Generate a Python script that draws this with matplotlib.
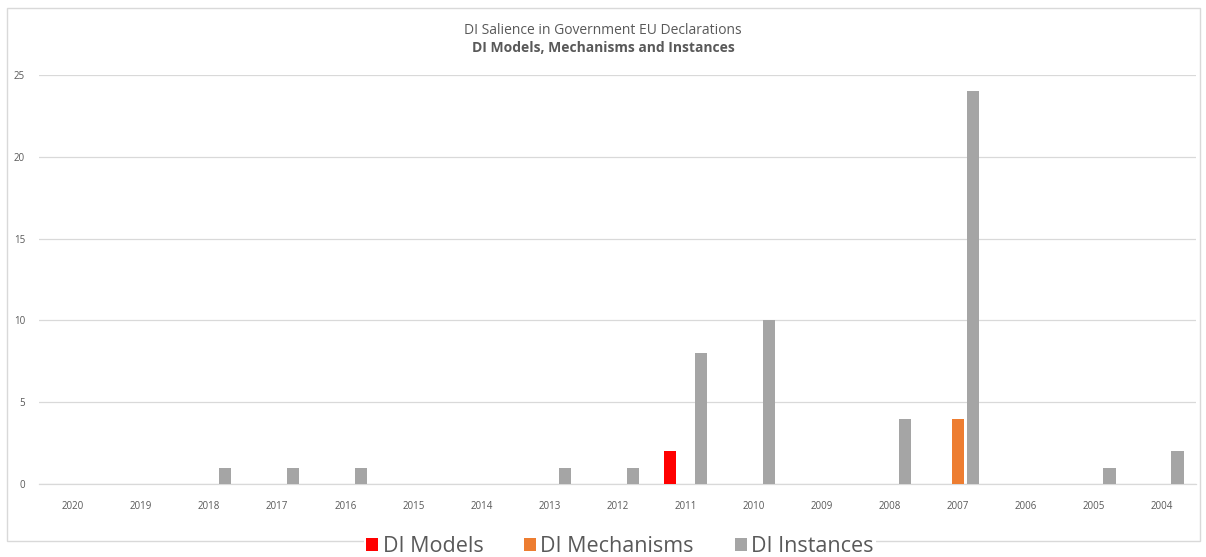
import matplotlib.pyplot as plt
import numpy as np
from matplotlib.patches import Rectangle

years = ['2020', '2019', '2018', '2017', '2016', '2015', '2014', '2013', '2012',
         '2011', '2010', '2009', '2008', '2007', '2006', '2005', '2004']
models = [0, 0, 0, 0, 0, 0, 0, 0, 0, 2, 0, 0, 0, 0, 0, 0, 0]
mechanisms = [0, 0, 0, 0, 0, 0, 0, 0, 0, 0, 0, 0, 0, 4, 0, 0, 0]
instances = [0, 0, 1, 1, 1, 0, 0, 1, 1, 8, 10, 0, 4, 24, 0, 1, 2]

plt.rcParams['font.family'] = ['Open Sans', 'DejaVu Sans']
txt = '#595959'
grid = '#d9d9d9'

fig = plt.figure(figsize=(12.06, 5.57), dpi=100)
ax = fig.add_axes([39 / 1206, 1 - 484 / 557, (1196 - 39) / 1206, (484 - 75) / 557])

# outer chart border
fig.patches.append(Rectangle((7 / 1206, 1 - 541 / 557), 1193 / 1206, 533 / 557,
                             transform=fig.transFigure, fill=False,
                             edgecolor=grid, linewidth=1, zorder=1))

x = np.arange(len(years))
step = 0.228
w = 0.18
ax.bar(x - step, models, w, color='#ff0000', linewidth=0, label='DI Models', zorder=3)
ax.bar(x, mechanisms, w, color='#ed7d31', linewidth=0, label='DI Mechanisms', zorder=3)
ax.bar(x + step, instances, w, color='#a5a5a5', linewidth=0, label='DI Instances', zorder=3)

ax.set_xlim(-0.5, len(years) - 0.5)
ax.set_ylim(0, 25)
ax.set_yticks(range(0, 26, 5))
ax.set_xticks(x)
ax.set_xticklabels(years)
ax.tick_params(axis='both', length=0, labelsize=7, labelcolor=txt)
ax.tick_params(axis='y', pad=10)
ax.tick_params(axis='x', pad=12)
ax.yaxis.grid(True, color=grid, linewidth=0.9, zorder=0)
for s in ['top', 'right', 'left']:
    ax.spines[s].set_visible(False)
ax.spines['bottom'].set_color(grid)
ax.spines['bottom'].set_linewidth(0.9)

fig.text(0.5, 1 - 30 / 557, 'DI Salience in Government EU Declarations',
         ha='center', va='center', fontsize=10, color=txt)
fig.text(0.5, 1 - 48 / 557, 'DI Models, Mechanisms and Instances',
         ha='center', va='center', fontsize=10, fontweight='bold', color=txt)

leg = fig.legend(loc='center', bbox_to_anchor=(0.514, 1 - 547 / 557), ncol=3,
                 frameon=True, fontsize=15.5, handlelength=0.55, handleheight=0.55,
                 handletextpad=0.2, columnspacing=1.9, borderpad=0.1)
leg.get_frame().set_facecolor('white')
leg.get_frame().set_edgecolor('none')
leg.get_frame().set_alpha(1)
for t in leg.get_texts():
    t.set_color(txt)

fig.savefig('out.png', dpi=100)
